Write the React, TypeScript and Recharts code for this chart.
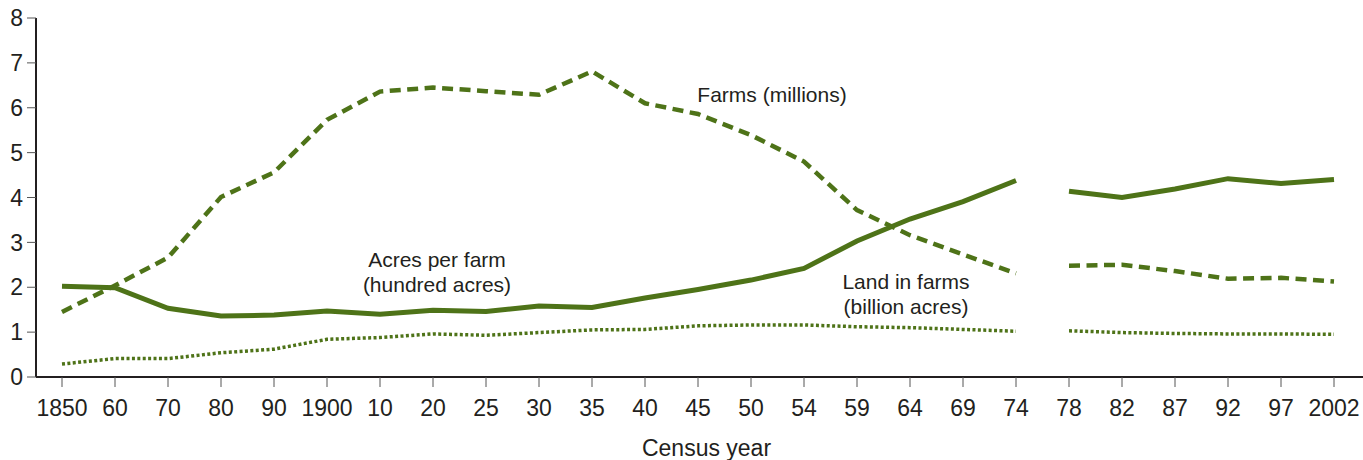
import React from 'react';
import { LineChart, Line, XAxis, YAxis, Label } from 'recharts';

// Census years (category axis)
const categories: string[] = ['1850', '60', '70', '80', '90', '1900', '10', '20', '25', '30', '35', '40', '45', '50', '54', '59', '64', '69', '74', '78', '82', '87', '92', '97', '2002'];
// Acres per farm (hundred acres)
const acresPerFarm: number[] = [2.02, 1.99, 1.53, 1.36, 1.38, 1.47, 1.40, 1.49, 1.46, 1.58, 1.55, 1.76, 1.95, 2.16, 2.42, 3.03, 3.52, 3.91, 4.38, 4.14, 4.00, 4.19, 4.42, 4.31, 4.40];
// Farms (millions)
const farmsMillions: number[] = [1.45, 2.04, 2.66, 4.01, 4.56, 5.73, 6.36, 6.45, 6.37, 6.29, 6.81, 6.10, 5.86, 5.39, 4.80, 3.72, 3.16, 2.73, 2.31, 2.48, 2.50, 2.36, 2.19, 2.21, 2.13];
// Land in farms (billion acres)
const landInFarms: number[] = [0.29, 0.41, 0.41, 0.54, 0.62, 0.84, 0.88, 0.96, 0.93, 0.99, 1.05, 1.06, 1.14, 1.16, 1.16, 1.12, 1.10, 1.06, 1.02, 1.03, 0.99, 0.97, 0.96, 0.96, 0.95];
// Lines break between 1974 and 1978
const lastIndexBeforeBreak = 18;
const yTicks: number[] = [0, 1, 2, 3, 4, 5, 6, 7, 8];

const split = (arr: number[], i: number, first: boolean) =>
  first ? (i <= lastIndexBeforeBreak ? arr[i] : null) : (i > lastIndexBeforeBreak ? arr[i] : null);

const data = categories.map((year, i) => ({
  year,
  acresA: split(acresPerFarm, i, true),
  acresB: split(acresPerFarm, i, false),
  farmsA: split(farmsMillions, i, true),
  farmsB: split(farmsMillions, i, false),
  landA: split(landInFarms, i, true),
  landB: split(landInFarms, i, false),
}));

const GREEN = '#4e7318';
const INK = '#231f20';
const FONT = '"Liberation Sans", Arial, Helvetica, sans-serif';

export default function App() {
  return (
    <div style={{ position: 'absolute', left: 0, top: 0, width: 1363, height: 460, background: '#fff' }}>
      <LineChart width={1363} height={460} data={data} margin={{ top: 18, right: 0, bottom: 0, left: 0 }}>
        <XAxis
          dataKey="year"
          interval={0}
          padding={{ left: 26, right: 29 }}
          height={83}
          tickSize={10}
          tickMargin={13}
          axisLine={{ stroke: INK, strokeWidth: 2 }}
          tickLine={{ stroke: '#555', strokeWidth: 1 }}
          tick={{ fill: INK, fontSize: 23, fontFamily: FONT }}
        >
          <Label
            value="Census year"
            position="insideBottom"
            offset={4}
            dx={7}
            style={{ fill: INK, fontSize: 23, fontFamily: FONT }}
          />
        </XAxis>
        <YAxis
          domain={[0, 8]}
          ticks={yTicks}
          width={36}
          tickSize={9}
          tickMargin={4}
          axisLine={{ stroke: INK, strokeWidth: 2 }}
          tickLine={{ stroke: '#555', strokeWidth: 1 }}
          tick={{ fill: INK, fontSize: 23, fontFamily: FONT }}
          allowDataOverflow
        />
        <Line dataKey="landA" stroke={GREEN} strokeWidth={3.5} strokeDasharray="3 2.4" dot={false} activeDot={false} isAnimationActive={false} />
        <Line dataKey="landB" stroke={GREEN} strokeWidth={3.5} strokeDasharray="3 2.4" dot={false} activeDot={false} isAnimationActive={false} />
        <Line dataKey="farmsA" stroke={GREEN} strokeWidth={4.5} strokeDasharray="11 6.5" dot={false} activeDot={false} isAnimationActive={false} />
        <Line dataKey="farmsB" stroke={GREEN} strokeWidth={4.5} strokeDasharray="11 6.5" dot={false} activeDot={false} isAnimationActive={false} />
        <Line dataKey="acresA" stroke={GREEN} strokeWidth={5} dot={false} activeDot={false} isAnimationActive={false} />
        <Line dataKey="acresB" stroke={GREEN} strokeWidth={5} dot={false} activeDot={false} isAnimationActive={false} />
      </LineChart>
      <svg
        width={1363}
        height={460}
        style={{ position: 'absolute', left: 0, top: 0, pointerEvents: 'none' }}
      >
        <g fill={INK} fontFamily={FONT} fontSize={21} textAnchor="middle">
          <text x={772} y={102}>Farms (millions)</text>
          <text x={437} y={267}>Acres per farm</text>
          <text x={437} y={292}>(hundred acres)</text>
          <text x={906} y={289}>Land in farms</text>
          <text x={906} y={314}>(billion acres)</text>
        </g>
      </svg>
    </div>
  );
}
